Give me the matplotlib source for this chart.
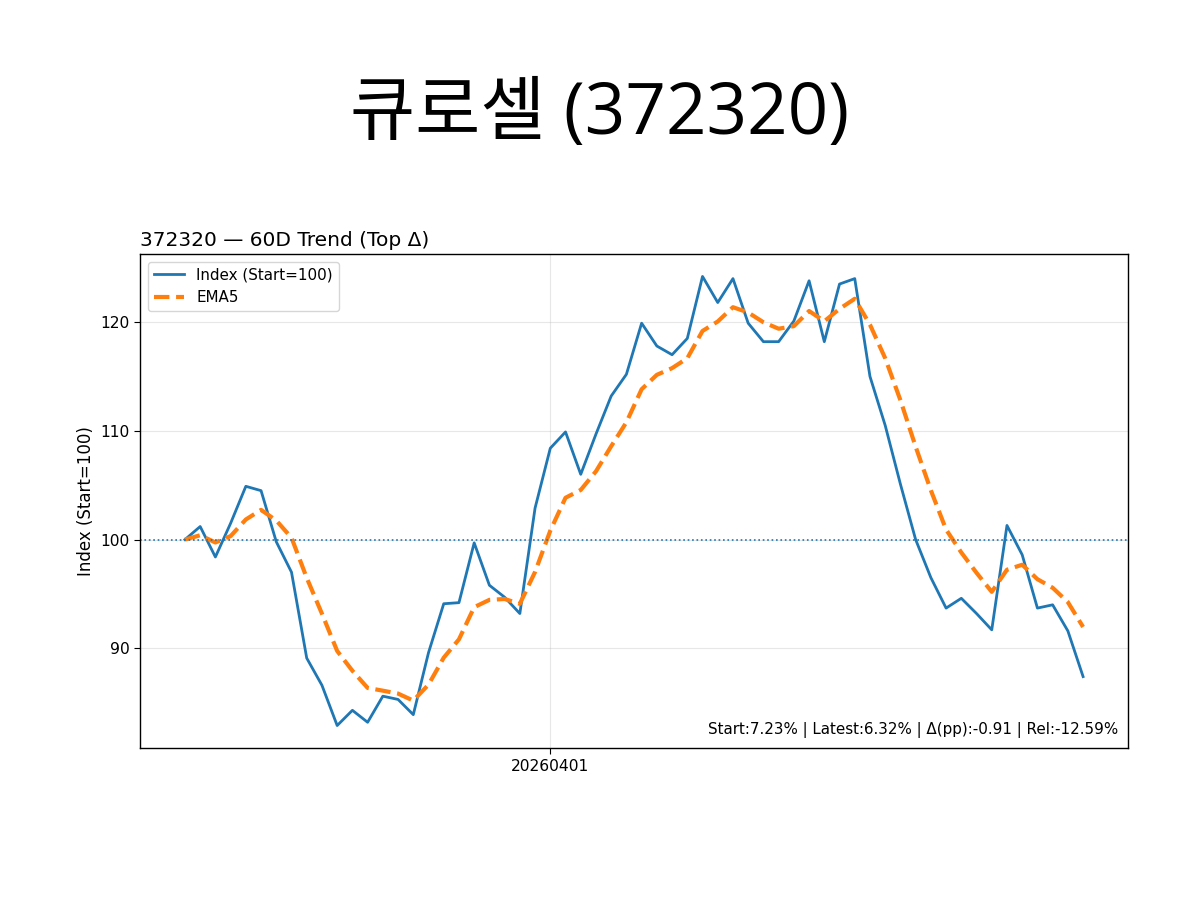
import numpy as np
import pandas as pd
import matplotlib
matplotlib.use("Agg")
import matplotlib.pyplot as plt

# index values (start = 100)
index_vals = [
    100.0, 101.2, 98.4, 101.5, 104.9, 104.5, 99.8, 97.0, 89.1, 86.6,
    82.9, 84.3, 83.2, 85.6, 85.3, 83.9, 89.6, 94.1, 94.2, 99.7,
    95.8, 94.7, 93.2, 102.9, 108.4, 109.9, 106.0, 109.7, 113.2, 115.2,
    119.9, 117.8, 117.0, 118.5, 124.2, 121.8, 124.0, 119.9, 118.2, 118.2,
    120.1, 123.8, 118.2, 123.5, 124.0, 115.0, 110.5, 105.1, 100.0, 96.5,
    93.7, 94.6, 93.2, 91.7, 101.3, 98.6, 93.7, 94.0, 91.6, 87.4,
]
tick_pos = [24]
tick_labels = ["20260401"]

stock_name = "큐로셀"
code = "372320"
stats_text = "Start:7.23% | Latest:6.32% | Δ(pp):-0.91 | Rel:-12.59%"

s = pd.Series(index_vals)
ema5 = s.ewm(span=5, adjust=False).mean()
x = np.arange(len(s))

fig = plt.figure(figsize=(12, 9), dpi=100)
fig.text(0.5, 0.872, f"{stock_name} ({code})", ha="center", va="center",
         fontsize=51, family=["Open Sans", "Noto Sans CJK KR", "DejaVu Sans"])

ax = fig.add_axes([0.1167, 0.1689, 0.8233, 0.5489])
ax.plot(x, s, color="C0", lw=2.0, label="Index (Start=100)")
ax.plot(x, ema5, color="C1", lw=3.0, ls="--", label="EMA5")
ax.axhline(100, color="C0", lw=1.2, ls=":")

ax.set_title(f"{code} — 60D Trend (Top Δ)", loc="left", fontsize=14.5)
ax.set_ylabel("Index (Start=100)", fontsize=12)
ax.set_xticks(tick_pos)
ax.set_xticklabels(tick_labels)
ax.tick_params(labelsize=11.2, length=4.2)
ax.grid(True, alpha=0.3)
for sp in ax.spines.values():
    sp.set_linewidth(1.0)
ax.legend(loc="upper left", fontsize=10.9)
ax.text(0.99, 0.02, stats_text, transform=ax.transAxes, ha="right", va="bottom",
        fontsize=10.9)

fig.savefig("out.png", dpi=100)
